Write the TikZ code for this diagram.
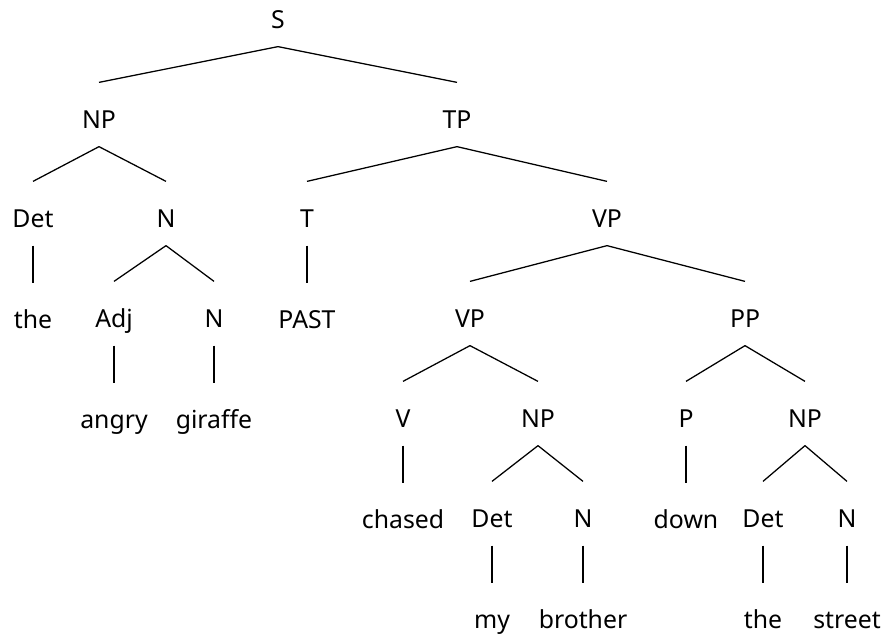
\documentclass[tikz,border=0pt]{standalone}
\usepackage{fontspec}
\setmainfont{Noto Sans}
\usepackage{tikz}
\usetikzlibrary{positioning}

\begin{document}
\begin{tikzpicture}[
      x=0.75pt, y=-0.75pt,
      cat/.style={inner sep=0pt, text height=33.75pt, text depth=13.5pt, font=\fontsize{18.6}{22}\selectfont},
      node distance=27.75pt, line width=0.95pt
    ]
    \useasboundingbox (0,0) rectangle (885,637);

    \node[cat, anchor=base] at (278,28) (s) {S};
    \node[cat, anchor=base] at (99,128) (np1) {NP};
    \node[cat, anchor=base] at (457,128) (tp) {TP};

    \node[cat, anchor=base] at (33,227) (det1) {Det};
    \node[cat, anchor=base] at (166,227) (n1) {N};
    \node[cat, anchor=base] at (307,227) (t) {T};
    \node[cat, anchor=base] at (607,227) (vp1) {VP};

    \node[cat, below=of det1] (the1) {the};
    \node[cat, anchor=base] at (114,327) (adj) {Adj};
    \node[cat, anchor=base] at (214,327) (n2) {N};
    \node[cat, below=of t] (past) {PAST};
    \node[cat, anchor=base] at (470,327) (vp2) {VP};
    \node[cat, anchor=base] at (745,327) (pp) {PP};

    \node[cat, below=of adj] (angry) {angry};
    \node[cat, below=of n2] (giraffe) {giraffe};
    \node[cat, anchor=base] at (403,427) (v) {V};
    \node[cat, anchor=base] at (538,427) (np2) {NP};
    \node[cat, anchor=base] at (686,427) (p) {P};
    \node[cat, anchor=base] at (805,427) (np3) {NP};

    \node[cat, below=of v] (chased) {chased};
    \node[cat, anchor=base] at (492,527) (det2) {Det};
    \node[cat, anchor=base] at (583,527) (n3) {N};
    \node[cat, below=of p] (down) {down};
    \node[cat, anchor=base] at (763,527) (det3) {Det};
    \node[cat, anchor=base] at (847,527) (n4) {N};

    \node[cat, below=of det2] (my) {my};
    \node[cat, below=of n3] (brother) {brother};
    \node[cat, below=of det3] (the2) {the};
    \node[cat, below=of n4] (street) {street};

    \draw (s.south) -- (np1.north);  \draw (s.south) -- (tp.north);
    \draw (np1.south) -- (det1.north);  \draw (np1.south) -- (n1.north);
    \draw (tp.south) -- (t.north);  \draw (tp.south) -- (vp1.north);
    \draw (det1.south) -- (the1.north);
    \draw (n1.south) -- (adj.north);  \draw (n1.south) -- (n2.north);
    \draw (t.south) -- (past.north);
    \draw (vp1.south) -- (vp2.north);  \draw (vp1.south) -- (pp.north);
    \draw (adj.south) -- (angry.north);
    \draw (n2.south) -- (giraffe.north);
    \draw (vp2.south) -- (v.north);  \draw (vp2.south) -- (np2.north);
    \draw (pp.south) -- (p.north);  \draw (pp.south) -- (np3.north);
    \draw (v.south) -- (chased.north);
    \draw (np2.south) -- (det2.north);  \draw (np2.south) -- (n3.north);
    \draw (p.south) -- (down.north);
    \draw (np3.south) -- (det3.north);  \draw (np3.south) -- (n4.north);
    \draw (det2.south) -- (my.north);
    \draw (n3.south) -- (brother.north);
    \draw (det3.south) -- (the2.north);
    \draw (n4.south) -- (street.north);
  \end{tikzpicture}
\end{document}
